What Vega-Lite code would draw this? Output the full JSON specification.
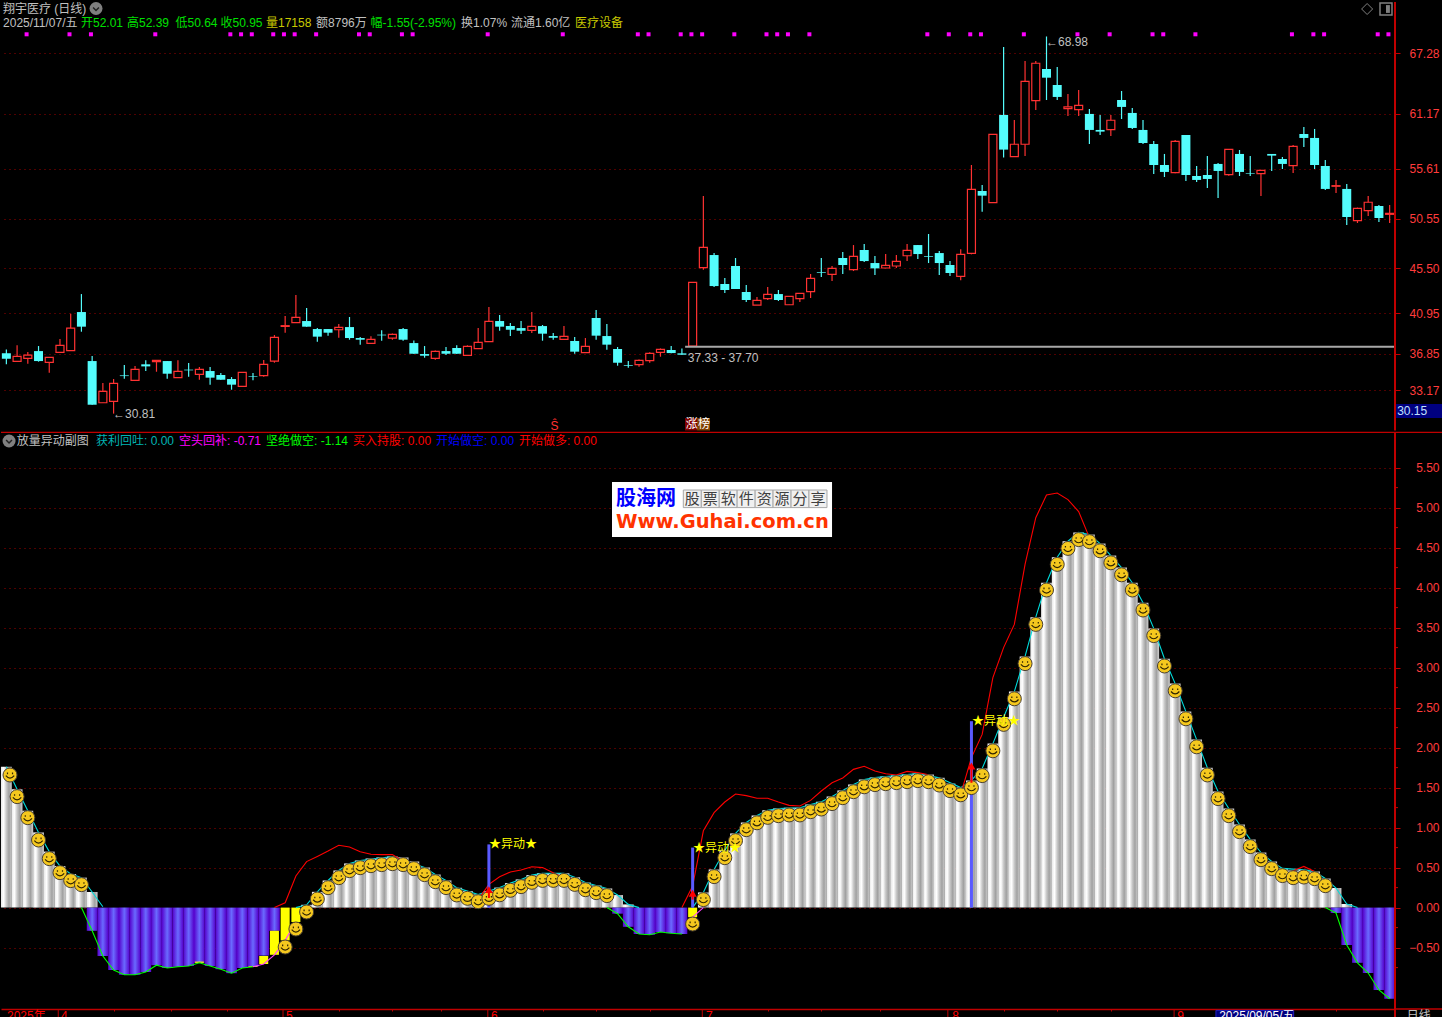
{"$schema":"https://vega.github.io/schema/vega-lite/v6.json","background":"#000000","padding":0,"spacing":0,"bounds":"flush","resolve":{"scale":{"color":"independent"}},"config":{"view":{"stroke":null},"text":{"font":"Liberation Sans, Noto Sans CJK SC","fontSize":12,"align":"left","baseline":"middle"},"axis":{"labelFont":"Liberation Sans"}},
"datasets":{
"k":[{"i":0,"o":36.91,"h":37.31,"l":35.8,"c":36.37},{"i":1,"o":36.1,"h":37.72,"l":36.07,"c":36.6},{"i":2,"o":36.4,"h":37.04,"l":35.86,"c":36.74},{"i":3,"o":37.14,"h":37.65,"l":36.07,"c":36.13},{"i":4,"o":36.0,"h":36.5,"l":34.95,"c":36.5},{"i":5,"o":37.01,"h":38.36,"l":36.98,"c":37.72},{"i":6,"o":37.18,"h":40.92,"l":37.18,"c":39.47},{"i":7,"o":41.09,"h":42.91,"l":39.1,"c":39.61},{"i":8,"o":36.13,"h":36.64,"l":31.71,"c":31.71},{"i":9,"o":31.91,"h":33.91,"l":31.91,"c":33.06},{"i":10,"o":32.05,"h":34.31,"l":30.81,"c":33.87},{"i":11,"o":34.68,"h":35.73,"l":34.34,"c":34.61},{"i":12,"o":34.18,"h":35.63,"l":34.18,"c":35.29},{"i":13,"o":35.8,"h":36.2,"l":35.12,"c":35.59},{"i":14,"o":36.07,"h":36.23,"l":35.05,"c":36.2},{"i":15,"o":36.13,"h":36.13,"l":34.34,"c":34.85},{"i":16,"o":34.45,"h":36.2,"l":34.45,"c":35.09},{"i":17,"o":35.26,"h":35.93,"l":34.55,"c":35.19},{"i":18,"o":34.78,"h":35.52,"l":34.24,"c":35.29},{"i":19,"o":35.12,"h":35.52,"l":33.74,"c":34.45},{"i":20,"o":34.72,"h":34.92,"l":34.24,"c":34.24},{"i":21,"o":34.31,"h":34.51,"l":33.23,"c":33.74},{"i":22,"o":33.57,"h":34.99,"l":33.57,"c":34.99},{"i":23,"o":34.61,"h":34.92,"l":34.18,"c":34.55},{"i":24,"o":34.65,"h":36.23,"l":34.55,"c":35.8},{"i":25,"o":36.13,"h":38.76,"l":35.96,"c":38.53},{"i":26,"o":39.64,"h":40.69,"l":39.0,"c":39.71},{"i":27,"o":40.01,"h":42.81,"l":40.01,"c":40.55},{"i":28,"o":40.18,"h":41.5,"l":39.61,"c":39.61},{"i":29,"o":39.37,"h":39.47,"l":38.09,"c":38.6},{"i":30,"o":39.37,"h":39.37,"l":38.7,"c":39.0},{"i":31,"o":39.3,"h":39.88,"l":38.49,"c":39.54},{"i":32,"o":39.57,"h":40.59,"l":38.29,"c":38.46},{"i":33,"o":38.46,"h":38.56,"l":37.79,"c":38.29},{"i":34,"o":37.92,"h":38.63,"l":37.89,"c":38.33},{"i":35,"o":38.8,"h":39.24,"l":38.19,"c":38.73},{"i":36,"o":38.46,"h":38.93,"l":38.29,"c":38.83},{"i":37,"o":39.37,"h":39.47,"l":38.19,"c":38.29},{"i":38,"o":37.95,"h":38.22,"l":36.87,"c":36.87},{"i":39,"o":36.84,"h":37.65,"l":36.47,"c":36.67},{"i":40,"o":36.4,"h":37.21,"l":36.27,"c":37.11},{"i":41,"o":37.14,"h":37.55,"l":36.74,"c":36.87},{"i":42,"o":37.45,"h":37.72,"l":36.87,"c":36.87},{"i":43,"o":36.71,"h":37.72,"l":36.67,"c":37.62},{"i":44,"o":37.38,"h":39.47,"l":37.38,"c":38.02},{"i":45,"o":38.09,"h":41.6,"l":38.09,"c":40.15},{"i":46,"o":40.18,"h":40.79,"l":39.2,"c":39.61},{"i":47,"o":39.67,"h":39.98,"l":38.66,"c":39.3},{"i":48,"o":39.47,"h":40.18,"l":38.87,"c":39.2},{"i":49,"o":39.24,"h":41.09,"l":38.98,"c":39.64},{"i":50,"o":39.67,"h":39.78,"l":38.19,"c":38.9},{"i":51,"o":38.66,"h":38.97,"l":38.29,"c":38.49},{"i":52,"o":38.33,"h":39.67,"l":38.33,"c":38.63},{"i":53,"o":38.16,"h":38.56,"l":36.87,"c":37.08},{"i":54,"o":36.98,"h":38.46,"l":36.98,"c":37.62},{"i":55,"o":40.49,"h":41.29,"l":38.29,"c":38.7},{"i":56,"o":38.66,"h":39.88,"l":37.28,"c":37.79},{"i":57,"o":37.35,"h":37.55,"l":35.66,"c":35.96},{"i":58,"o":35.73,"h":36.13,"l":35.46,"c":35.66},{"i":59,"o":35.76,"h":36.3,"l":35.56,"c":36.2},{"i":60,"o":36.17,"h":37.01,"l":35.96,"c":36.91},{"i":61,"o":37.01,"h":37.41,"l":36.57,"c":37.31},{"i":62,"o":37.25,"h":37.65,"l":36.91,"c":36.94},{"i":63,"o":36.91,"h":37.41,"l":36.77,"c":36.77},{"i":64,"o":37.65,"h":44.1,"l":37.65,"c":44.1},{"i":65,"o":45.58,"h":52.83,"l":45.38,"c":47.64},{"i":66,"o":46.86,"h":47.06,"l":43.62,"c":43.72},{"i":67,"o":43.93,"h":44.53,"l":43.02,"c":43.32},{"i":68,"o":45.75,"h":46.56,"l":43.42,"c":43.42},{"i":69,"o":43.12,"h":43.83,"l":42.1,"c":42.31},{"i":70,"o":41.8,"h":42.61,"l":41.8,"c":42.27},{"i":71,"o":42.44,"h":43.62,"l":42.31,"c":42.88},{"i":72,"o":42.91,"h":43.32,"l":42.21,"c":42.31},{"i":73,"o":41.83,"h":42.71,"l":41.8,"c":42.68},{"i":74,"o":42.44,"h":43.02,"l":42.1,"c":42.98},{"i":75,"o":43.15,"h":44.94,"l":42.51,"c":44.5},{"i":76,"o":45.14,"h":46.56,"l":44.63,"c":45.07},{"i":77,"o":44.9,"h":45.75,"l":44.23,"c":45.51},{"i":78,"o":46.56,"h":47.17,"l":44.94,"c":45.85},{"i":79,"o":45.38,"h":47.87,"l":45.24,"c":46.73},{"i":80,"o":47.37,"h":47.98,"l":46.15,"c":46.25},{"i":81,"o":46.05,"h":46.76,"l":44.84,"c":45.51},{"i":82,"o":45.55,"h":46.96,"l":45.51,"c":45.82},{"i":83,"o":45.75,"h":46.86,"l":45.55,"c":46.22},{"i":84,"o":46.79,"h":47.98,"l":46.25,"c":47.33},{"i":85,"o":47.87,"h":47.87,"l":46.46,"c":46.96},{"i":86,"o":46.76,"h":48.99,"l":46.05,"c":46.69},{"i":87,"o":47.06,"h":47.27,"l":44.84,"c":46.05},{"i":88,"o":45.85,"h":46.25,"l":44.74,"c":45.04},{"i":89,"o":44.71,"h":47.44,"l":44.3,"c":46.93},{"i":90,"o":47.03,"h":55.97,"l":46.93,"c":53.51},{"i":91,"o":53.34,"h":53.95,"l":51.25,"c":52.87},{"i":92,"o":52.16,"h":59.08,"l":52.16,"c":59.08},{"i":93,"o":61.04,"h":67.92,"l":56.72,"c":57.53},{"i":94,"o":56.82,"h":60.53,"l":56.82,"c":58.07},{"i":95,"o":58.07,"h":66.5,"l":56.88,"c":64.44},{"i":96,"o":62.49,"h":66.5,"l":61.54,"c":66.27},{"i":97,"o":65.69,"h":68.98,"l":62.55,"c":64.81},{"i":98,"o":64.07,"h":65.89,"l":62.55,"c":62.86},{"i":99,"o":61.68,"h":63.16,"l":60.93,"c":61.85},{"i":100,"o":61.58,"h":63.57,"l":60.93,"c":62.01},{"i":101,"o":61.14,"h":61.64,"l":58.1,"c":59.52},{"i":102,"o":59.52,"h":61.04,"l":59.01,"c":59.35},{"i":103,"o":59.55,"h":61.04,"l":58.91,"c":60.5},{"i":104,"o":62.55,"h":63.46,"l":60.63,"c":61.85},{"i":105,"o":61.24,"h":61.74,"l":59.62,"c":59.72},{"i":106,"o":59.52,"h":60.53,"l":58.1,"c":58.2},{"i":107,"o":58.1,"h":58.4,"l":55.06,"c":55.97},{"i":108,"o":55.97,"h":57.09,"l":54.76,"c":55.27},{"i":109,"o":55.2,"h":58.5,"l":55.13,"c":58.37},{"i":110,"o":59.01,"h":59.01,"l":54.35,"c":54.96},{"i":111,"o":54.86,"h":55.87,"l":54.25,"c":54.46},{"i":112,"o":54.96,"h":56.88,"l":53.65,"c":54.56},{"i":113,"o":56.08,"h":56.18,"l":52.63,"c":55.37},{"i":114,"o":54.99,"h":57.56,"l":54.89,"c":57.56},{"i":115,"o":57.09,"h":57.49,"l":54.86,"c":55.27},{"i":116,"o":55.16,"h":56.88,"l":54.86,"c":55.1},{"i":117,"o":55.1,"h":55.47,"l":52.84,"c":55.43},{"i":118,"o":57.09,"h":57.09,"l":55.37,"c":56.92},{"i":119,"o":56.58,"h":56.78,"l":55.57,"c":56.08},{"i":120,"o":55.91,"h":58.0,"l":55.16,"c":57.86},{"i":121,"o":59.11,"h":59.82,"l":57.8,"c":58.71},{"i":122,"o":58.71,"h":59.62,"l":55.57,"c":55.97},{"i":123,"o":55.87,"h":56.48,"l":53.44,"c":53.55},{"i":124,"o":53.82,"h":54.46,"l":53.14,"c":53.88},{"i":125,"o":53.55,"h":54.05,"l":49.9,"c":50.71},{"i":126,"o":50.34,"h":51.66,"l":50.1,"c":51.59},{"i":127,"o":51.35,"h":52.84,"l":50.81,"c":52.2},{"i":128,"o":51.82,"h":51.93,"l":50.2,"c":50.61},{"i":129,"o":50.98,"h":51.93,"l":50.1,"c":51.08}],
"sq":[{"i":2,"v":69.2},{"i":6,"v":69.2},{"i":8,"v":69.2},{"i":14,"v":69.2},{"i":21,"v":69.2},{"i":22,"v":69.2},{"i":23,"v":69.2},{"i":25,"v":69.2},{"i":26,"v":69.2},{"i":27,"v":69.2},{"i":29,"v":69.2},{"i":33,"v":69.2},{"i":34,"v":69.2},{"i":37,"v":69.2},{"i":38,"v":69.2},{"i":45,"v":69.2},{"i":52,"v":69.2},{"i":59,"v":69.2},{"i":60,"v":69.2},{"i":63,"v":69.2},{"i":64,"v":69.2},{"i":65,"v":69.2},{"i":68,"v":69.2},{"i":71,"v":69.2},{"i":72,"v":69.2},{"i":73,"v":69.2},{"i":75,"v":69.2},{"i":86,"v":69.2},{"i":88,"v":69.2},{"i":90,"v":69.2},{"i":91,"v":69.2},{"i":95,"v":69.2},{"i":100,"v":69.2},{"i":103,"v":69.2},{"i":107,"v":69.2},{"i":108,"v":69.2},{"i":111,"v":69.2},{"i":120,"v":69.2},{"i":122,"v":69.2},{"i":123,"v":69.2},{"i":128,"v":69.2},{"i":129,"v":69.2}],
"w":[{"i":0,"w":1.76},{"i":1,"w":1.48},{"i":2,"w":1.21},{"i":3,"w":0.94},{"i":4,"w":0.7},{"i":5,"w":0.52},{"i":6,"w":0.42},{"i":7,"w":0.375},{"i":8,"w":0.195},{"i":28,"w":0.035},{"i":29,"w":0.197},{"i":30,"w":0.339},{"i":31,"w":0.464},{"i":32,"w":0.552},{"i":33,"w":0.589},{"i":34,"w":0.614},{"i":35,"w":0.627},{"i":36,"w":0.639},{"i":37,"w":0.627},{"i":38,"w":0.577},{"i":39,"w":0.502},{"i":40,"w":0.414},{"i":41,"w":0.34},{"i":42,"w":0.248},{"i":43,"w":0.206},{"i":44,"w":0.164},{"i":45,"w":0.206},{"i":46,"w":0.25},{"i":47,"w":0.306},{"i":48,"w":0.352},{"i":49,"w":0.406},{"i":50,"w":0.43},{"i":51,"w":0.43},{"i":52,"w":0.43},{"i":53,"w":0.38},{"i":54,"w":0.314},{"i":55,"w":0.277},{"i":56,"w":0.24},{"i":57,"w":0.157},{"i":58,"w":0.04},{"i":65,"w":0.19},{"i":66,"w":0.477},{"i":67,"w":0.714},{"i":68,"w":0.927},{"i":69,"w":1.064},{"i":70,"w":1.15},{"i":71,"w":1.218},{"i":72,"w":1.239},{"i":73,"w":1.248},{"i":74,"w":1.248},{"i":75,"w":1.289},{"i":76,"w":1.322},{"i":77,"w":1.39},{"i":78,"w":1.464},{"i":79,"w":1.539},{"i":80,"w":1.6},{"i":81,"w":1.627},{"i":82,"w":1.639},{"i":83,"w":1.652},{"i":84,"w":1.664},{"i":85,"w":1.677},{"i":86,"w":1.664},{"i":87,"w":1.622},{"i":88,"w":1.552},{"i":89,"w":1.5},{"i":90,"w":1.59},{"i":91,"w":1.74},{"i":92,"w":2.05},{"i":93,"w":2.38},{"i":94,"w":2.7},{"i":95,"w":3.14},{"i":96,"w":3.63},{"i":97,"w":4.06},{"i":98,"w":4.38},{"i":99,"w":4.58},{"i":100,"w":4.69},{"i":101,"w":4.665},{"i":102,"w":4.55},{"i":103,"w":4.4},{"i":104,"w":4.25},{"i":105,"w":4.06},{"i":106,"w":3.81},{"i":107,"w":3.49},{"i":108,"w":3.11},{"i":109,"w":2.8},{"i":110,"w":2.45},{"i":111,"w":2.1},{"i":112,"w":1.748},{"i":113,"w":1.452},{"i":114,"w":1.239},{"i":115,"w":1.039},{"i":116,"w":0.852},{"i":117,"w":0.689},{"i":118,"w":0.577},{"i":119,"w":0.49},{"i":120,"w":0.464},{"i":121,"w":0.472},{"i":122,"w":0.452},{"i":123,"w":0.364},{"i":124,"w":0.245},{"i":125,"w":0.045}],
"p":[{"i":8,"p":-0.29},{"i":9,"p":-0.605},{"i":10,"p":-0.78},{"i":11,"p":-0.84},{"i":12,"p":-0.84},{"i":13,"p":-0.805},{"i":14,"p":-0.72},{"i":15,"p":-0.755},{"i":16,"p":-0.74},{"i":17,"p":-0.73},{"i":18,"p":-0.69},{"i":19,"p":-0.73},{"i":20,"p":-0.77},{"i":21,"p":-0.82},{"i":22,"p":-0.755},{"i":23,"p":-0.74},{"i":24,"p":-0.6},{"i":25,"p":-0.29},{"i":57,"p":-0.076},{"i":58,"p":-0.24},{"i":59,"p":-0.33},{"i":60,"p":-0.34},{"i":61,"p":-0.305},{"i":62,"p":-0.32},{"i":63,"p":-0.33},{"i":124,"p":-0.067},{"i":125,"p":-0.4675},{"i":126,"p":-0.69},{"i":127,"p":-0.8175},{"i":128,"p":-1.03},{"i":129,"p":-1.14}],
"y":[{"i":18,"a":-0.675,"b":-0.69},{"i":23,"a":-0.73,"b":-0.74},{"i":24,"a":-0.605,"b":-0.705},{"i":25,"a":-0.29,"b":-0.59},{"i":26,"a":0,"b":-0.41},{"i":27,"a":0,"b":-0.18},{"i":64,"a":0,"b":-0.12}],
"s":[{"i":0.34,"s":1.6575},{"i":1,"s":1.387},{"i":2,"s":1.124},{"i":3,"s":0.845},{"i":4,"s":0.612},{"i":5,"s":0.437},{"i":6,"s":0.337},{"i":7,"s":0.287},{"i":26,"s":-0.4925},{"i":27,"s":-0.2675},{"i":28,"s":-0.055},{"i":29,"s":0.107},{"i":30,"s":0.249},{"i":31,"s":0.374},{"i":32,"s":0.462},{"i":33,"s":0.499},{"i":34,"s":0.524},{"i":35,"s":0.537},{"i":36,"s":0.549},{"i":37,"s":0.537},{"i":38,"s":0.487},{"i":39,"s":0.412},{"i":40,"s":0.324},{"i":41,"s":0.25},{"i":42,"s":0.158},{"i":43,"s":0.116},{"i":44,"s":0.074},{"i":45,"s":0.116},{"i":46,"s":0.16},{"i":47,"s":0.216},{"i":48,"s":0.262},{"i":49,"s":0.316},{"i":50,"s":0.34},{"i":51,"s":0.34},{"i":52,"s":0.34},{"i":53,"s":0.29},{"i":54,"s":0.224},{"i":55,"s":0.187},{"i":56,"s":0.15},{"i":64,"s":-0.205},{"i":65,"s":0.1},{"i":66,"s":0.387},{"i":67,"s":0.624},{"i":68,"s":0.837},{"i":69,"s":0.974},{"i":70,"s":1.06},{"i":71,"s":1.128},{"i":72,"s":1.149},{"i":73,"s":1.158},{"i":74,"s":1.158},{"i":75,"s":1.199},{"i":76,"s":1.232},{"i":77,"s":1.3},{"i":78,"s":1.374},{"i":79,"s":1.449},{"i":80,"s":1.51},{"i":81,"s":1.537},{"i":82,"s":1.549},{"i":83,"s":1.562},{"i":84,"s":1.574},{"i":85,"s":1.587},{"i":86,"s":1.574},{"i":87,"s":1.532},{"i":88,"s":1.462},{"i":89,"s":1.41},{"i":90,"s":1.5},{"i":91,"s":1.65},{"i":92,"s":1.96},{"i":93,"s":2.29},{"i":94,"s":2.61},{"i":95,"s":3.05},{"i":96,"s":3.54},{"i":97,"s":3.97},{"i":98,"s":4.29},{"i":99,"s":4.49},{"i":100,"s":4.6},{"i":101,"s":4.575},{"i":102,"s":4.46},{"i":103,"s":4.31},{"i":104,"s":4.16},{"i":105,"s":3.97},{"i":106,"s":3.72},{"i":107,"s":3.4},{"i":108,"s":3.02},{"i":109,"s":2.71},{"i":110,"s":2.36},{"i":111,"s":2.01},{"i":112,"s":1.658},{"i":113,"s":1.362},{"i":114,"s":1.149},{"i":115,"s":0.949},{"i":116,"s":0.762},{"i":117,"s":0.599},{"i":118,"s":0.487},{"i":119,"s":0.4},{"i":120,"s":0.374},{"i":121,"s":0.382},{"i":122,"s":0.362},{"i":123,"s":0.274}],
"ln":[{"i":0,"v":1.76,"kind":"cyan","seg":"c1"},{"i":1,"v":1.48,"kind":"cyan","seg":"c1"},{"i":2,"v":1.21,"kind":"cyan","seg":"c1"},{"i":3,"v":0.94,"kind":"cyan","seg":"c1"},{"i":4,"v":0.7,"kind":"cyan","seg":"c1"},{"i":5,"v":0.52,"kind":"cyan","seg":"c1"},{"i":6,"v":0.42,"kind":"cyan","seg":"c1"},{"i":7,"v":0.375,"kind":"cyan","seg":"c1"},{"i":8,"v":0.195,"kind":"cyan","seg":"c1"},{"i":9,"v":0.01,"kind":"cyan","seg":"c1"},
{"i":27,"v":0,"kind":"cyan","seg":"c2"},{"i":28,"v":0.035,"kind":"cyan","seg":"c2"},{"i":29,"v":0.197,"kind":"cyan","seg":"c2"},{"i":30,"v":0.339,"kind":"cyan","seg":"c2"},{"i":31,"v":0.464,"kind":"cyan","seg":"c2"},{"i":32,"v":0.552,"kind":"cyan","seg":"c2"},{"i":33,"v":0.589,"kind":"cyan","seg":"c2"},{"i":36,"v":0.639,"kind":"cyan","seg":"c2"},{"i":39,"v":0.502,"kind":"cyan","seg":"c2"},{"i":40,"v":0.414,"kind":"cyan","seg":"c2"},{"i":41,"v":0.34,"kind":"cyan","seg":"c2"},{"i":42,"v":0.248,"kind":"cyan","seg":"c2"},{"i":43,"v":0.206,"kind":"cyan","seg":"c2"},{"i":44,"v":0.164,"kind":"cyan","seg":"c2"},{"i":45,"v":0.206,"kind":"cyan","seg":"c2"},{"i":46,"v":0.25,"kind":"cyan","seg":"c2"},{"i":47,"v":0.306,"kind":"cyan","seg":"c2"},{"i":48,"v":0.352,"kind":"cyan","seg":"c2"},{"i":49,"v":0.406,"kind":"cyan","seg":"c2"},{"i":50,"v":0.43,"kind":"cyan","seg":"c2"},{"i":52,"v":0.43,"kind":"cyan","seg":"c2"},{"i":53,"v":0.38,"kind":"cyan","seg":"c2"},{"i":54,"v":0.314,"kind":"cyan","seg":"c2"},{"i":55,"v":0.277,"kind":"cyan","seg":"c2"},{"i":56,"v":0.24,"kind":"cyan","seg":"c2"},{"i":57,"v":0.157,"kind":"cyan","seg":"c2"},{"i":58,"v":0.04,"kind":"cyan","seg":"c2"},{"i":59,"v":0,"kind":"cyan","seg":"c2"},
{"i":64,"v":0,"kind":"cyan","seg":"c3"},{"i":65,"v":0.19,"kind":"cyan","seg":"c3"},{"i":66,"v":0.477,"kind":"cyan","seg":"c3"},{"i":67,"v":0.714,"kind":"cyan","seg":"c3"},{"i":68,"v":0.927,"kind":"cyan","seg":"c3"},{"i":69,"v":1.064,"kind":"cyan","seg":"c3"},{"i":70,"v":1.15,"kind":"cyan","seg":"c3"},{"i":71,"v":1.218,"kind":"cyan","seg":"c3"},{"i":72,"v":1.239,"kind":"cyan","seg":"c3"},{"i":74,"v":1.248,"kind":"cyan","seg":"c3"},{"i":75,"v":1.289,"kind":"cyan","seg":"c3"},{"i":76,"v":1.322,"kind":"cyan","seg":"c3"},{"i":77,"v":1.39,"kind":"cyan","seg":"c3"},{"i":78,"v":1.464,"kind":"cyan","seg":"c3"},{"i":79,"v":1.539,"kind":"cyan","seg":"c3"},{"i":80,"v":1.6,"kind":"cyan","seg":"c3"},{"i":81,"v":1.627,"kind":"cyan","seg":"c3"},{"i":83,"v":1.652,"kind":"cyan","seg":"c3"},{"i":85,"v":1.677,"kind":"cyan","seg":"c3"},{"i":87,"v":1.622,"kind":"cyan","seg":"c3"},{"i":89,"v":1.5,"kind":"cyan","seg":"c3"},{"i":90,"v":1.59,"kind":"cyan","seg":"c3"},{"i":91,"v":1.74,"kind":"cyan","seg":"c3"},{"i":92,"v":2.05,"kind":"cyan","seg":"c3"},{"i":93,"v":2.38,"kind":"cyan","seg":"c3"},{"i":94,"v":2.7,"kind":"cyan","seg":"c3"},{"i":95,"v":3.14,"kind":"cyan","seg":"c3"},{"i":96,"v":3.63,"kind":"cyan","seg":"c3"},{"i":97,"v":4.06,"kind":"cyan","seg":"c3"},{"i":98,"v":4.38,"kind":"cyan","seg":"c3"},{"i":99,"v":4.58,"kind":"cyan","seg":"c3"},{"i":100,"v":4.69,"kind":"cyan","seg":"c3"},{"i":101,"v":4.665,"kind":"cyan","seg":"c3"},{"i":102,"v":4.55,"kind":"cyan","seg":"c3"},{"i":103,"v":4.4,"kind":"cyan","seg":"c3"},{"i":104,"v":4.25,"kind":"cyan","seg":"c3"},{"i":105,"v":4.06,"kind":"cyan","seg":"c3"},{"i":106,"v":3.81,"kind":"cyan","seg":"c3"},{"i":107,"v":3.49,"kind":"cyan","seg":"c3"},{"i":108,"v":3.11,"kind":"cyan","seg":"c3"},{"i":109,"v":2.8,"kind":"cyan","seg":"c3"},{"i":110,"v":2.45,"kind":"cyan","seg":"c3"},{"i":111,"v":2.1,"kind":"cyan","seg":"c3"},{"i":112,"v":1.748,"kind":"cyan","seg":"c3"},{"i":113,"v":1.452,"kind":"cyan","seg":"c3"},{"i":114,"v":1.239,"kind":"cyan","seg":"c3"},{"i":115,"v":1.039,"kind":"cyan","seg":"c3"},{"i":116,"v":0.852,"kind":"cyan","seg":"c3"},{"i":117,"v":0.689,"kind":"cyan","seg":"c3"},{"i":118,"v":0.577,"kind":"cyan","seg":"c3"},{"i":119,"v":0.49,"kind":"cyan","seg":"c3"},{"i":121,"v":0.472,"kind":"cyan","seg":"c3"},{"i":122,"v":0.452,"kind":"cyan","seg":"c3"},{"i":123,"v":0.364,"kind":"cyan","seg":"c3"},{"i":124,"v":0.245,"kind":"cyan","seg":"c3"},{"i":125,"v":0.045,"kind":"cyan","seg":"c3"},{"i":126,"v":0,"kind":"cyan","seg":"c3"},
{"i":7,"v":0,"kind":"green","seg":"g1"},{"i":8,"v":-0.29,"kind":"green","seg":"g1"},{"i":9,"v":-0.605,"kind":"green","seg":"g1"},{"i":10,"v":-0.78,"kind":"green","seg":"g1"},{"i":11,"v":-0.84,"kind":"green","seg":"g1"},{"i":12,"v":-0.84,"kind":"green","seg":"g1"},{"i":13,"v":-0.805,"kind":"green","seg":"g1"},{"i":14,"v":-0.72,"kind":"green","seg":"g1"},{"i":15,"v":-0.755,"kind":"green","seg":"g1"},{"i":16,"v":-0.74,"kind":"green","seg":"g1"},{"i":17,"v":-0.73,"kind":"green","seg":"g1"},{"i":18,"v":-0.69,"kind":"green","seg":"g1"},{"i":19,"v":-0.73,"kind":"green","seg":"g1"},{"i":20,"v":-0.77,"kind":"green","seg":"g1"},{"i":21,"v":-0.82,"kind":"green","seg":"g1"},{"i":22,"v":-0.755,"kind":"green","seg":"g1"},{"i":23,"v":-0.74,"kind":"green","seg":"g1"},
{"i":23,"v":-0.74,"kind":"pink","seg":"m1"},{"i":24,"v":-0.705,"kind":"pink","seg":"m1"},{"i":25,"v":-0.59,"kind":"pink","seg":"m1"},{"i":26,"v":-0.41,"kind":"pink","seg":"m1"},{"i":27,"v":-0.18,"kind":"pink","seg":"m1"},
{"i":56,"v":0,"kind":"green","seg":"g2"},{"i":57,"v":-0.076,"kind":"green","seg":"g2"},{"i":58,"v":-0.24,"kind":"green","seg":"g2"},{"i":59,"v":-0.33,"kind":"green","seg":"g2"},{"i":60,"v":-0.34,"kind":"green","seg":"g2"},{"i":61,"v":-0.305,"kind":"green","seg":"g2"},{"i":62,"v":-0.32,"kind":"green","seg":"g2"},{"i":63,"v":-0.33,"kind":"green","seg":"g2"},
{"i":64,"v":-0.12,"kind":"pink","seg":"m2"},{"i":65,"v":0,"kind":"pink","seg":"m2"},
{"i":123,"v":0,"kind":"green","seg":"g3"},{"i":124,"v":-0.067,"kind":"green","seg":"g3"},{"i":125,"v":-0.4675,"kind":"green","seg":"g3"},{"i":126,"v":-0.69,"kind":"green","seg":"g3"},{"i":127,"v":-0.8175,"kind":"green","seg":"g3"},{"i":128,"v":-1.03,"kind":"green","seg":"g3"},{"i":129,"v":-1.14,"kind":"green","seg":"g3"},
{"i":25,"v":0,"kind":"red","seg":"r1"},{"i":26,"v":0.06,"kind":"red","seg":"r1"},{"i":27,"v":0.395,"kind":"red","seg":"r1"},{"i":28,"v":0.575,"kind":"red","seg":"r1"},{"i":29,"v":0.64,"kind":"red","seg":"r1"},{"i":30,"v":0.708,"kind":"red","seg":"r1"},{"i":31,"v":0.78,"kind":"red","seg":"r1"},{"i":32,"v":0.757,"kind":"red","seg":"r1"},{"i":33,"v":0.699,"kind":"red","seg":"r1"},{"i":34,"v":0.666,"kind":"red","seg":"r1"},{"i":35,"v":0.662,"kind":"red","seg":"r1"},{"i":36,"v":0.662,"kind":"red","seg":"r1"},{"i":37,"v":0.58,"kind":"red","seg":"r1"},
{"i":44,"v":0.1,"kind":"red","seg":"r2"},{"i":45,"v":0.29,"kind":"red","seg":"r2"},{"i":46,"v":0.386,"kind":"red","seg":"r2"},{"i":47,"v":0.445,"kind":"red","seg":"r2"},{"i":48,"v":0.47,"kind":"red","seg":"r2"},{"i":49,"v":0.51,"kind":"red","seg":"r2"},{"i":50,"v":0.5,"kind":"red","seg":"r2"},{"i":51,"v":0.437,"kind":"red","seg":"r2"},{"i":52,"v":0.37,"kind":"red","seg":"r2"},
{"i":63,"v":0,"kind":"red","seg":"r3"},{"i":64,"v":0.27,"kind":"red","seg":"r3"},{"i":65,"v":0.96,"kind":"red","seg":"r3"},{"i":66,"v":1.187,"kind":"red","seg":"r3"},{"i":67,"v":1.32,"kind":"red","seg":"r3"},{"i":68,"v":1.42,"kind":"red","seg":"r3"},{"i":69,"v":1.4,"kind":"red","seg":"r3"},{"i":70,"v":1.366,"kind":"red","seg":"r3"},{"i":71,"v":1.366,"kind":"red","seg":"r3"},{"i":72,"v":1.32,"kind":"red","seg":"r3"},{"i":73,"v":1.278,"kind":"red","seg":"r3"},{"i":74,"v":1.27,"kind":"red","seg":"r3"},{"i":75,"v":1.34,"kind":"red","seg":"r3"},{"i":76,"v":1.457,"kind":"red","seg":"r3"},{"i":77,"v":1.56,"kind":"red","seg":"r3"},{"i":78,"v":1.62,"kind":"red","seg":"r3"},{"i":79,"v":1.728,"kind":"red","seg":"r3"},{"i":80,"v":1.766,"kind":"red","seg":"r3"},{"i":81,"v":1.707,"kind":"red","seg":"r3"},{"i":82,"v":1.674,"kind":"red","seg":"r3"},{"i":83,"v":1.657,"kind":"red","seg":"r3"},{"i":84,"v":1.703,"kind":"red","seg":"r3"},{"i":85,"v":1.687,"kind":"red","seg":"r3"},{"i":86,"v":1.66,"kind":"red","seg":"r3"},
{"i":89,"v":1.415,"kind":"red","seg":"r4"},{"i":90,"v":1.875,"kind":"red","seg":"r4"},{"i":91,"v":2.165,"kind":"red","seg":"r4"},{"i":92,"v":2.875,"kind":"red","seg":"r4"},{"i":93,"v":3.25,"kind":"red","seg":"r4"},{"i":94,"v":3.54,"kind":"red","seg":"r4"},{"i":95,"v":4.29,"kind":"red","seg":"r4"},{"i":96,"v":4.874,"kind":"red","seg":"r4"},{"i":97,"v":5.157,"kind":"red","seg":"r4"},{"i":98,"v":5.182,"kind":"red","seg":"r4"},{"i":99,"v":5.1,"kind":"red","seg":"r4"},{"i":100,"v":4.95,"kind":"red","seg":"r4"},{"i":101,"v":4.625,"kind":"red","seg":"r4"},
{"i":120,"v":0.46,"kind":"red","seg":"r5"},{"i":121,"v":0.515,"kind":"red","seg":"r5"},{"i":122,"v":0.45,"kind":"red","seg":"r5"}],
"sp":[{"i":45,"t":0.79,"z":0,"h":0.225,"b":0.12,"x":45.01,"ly":0.795},{"i":64,"t":0.75,"z":0,"h":0.18,"b":0.1,"x":64.03,"ly":0.745},{"i":90,"t":2.33,"z":0,"h":1.77,"b":1.56,"x":90.05,"ly":2.33}],
"topText":[{"x":-0.31,"y":71.76,"t":"翔宇医疗 (日线)","k":"gray"},{"x":-0.31,"y":70.34,"t":"2025/11/07/五","k":"gray"},{"x":6.96,"y":70.34,"t":"开52.01","k":"green"},{"x":11.25,"y":70.34,"t":"高52.39","k":"green"},{"x":15.77,"y":70.34,"t":"低50.64","k":"green"},{"x":19.97,"y":70.34,"t":"收50.95","k":"green"},{"x":24.21,"y":70.34,"t":"量17158","k":"olive"},{"x":28.88,"y":70.34,"t":"额8796万","k":"gray"},{"x":33.97,"y":70.34,"t":"幅-1.55(-2.95%)","k":"green"},{"x":42.4,"y":70.34,"t":"换1.07%","k":"gray"},{"x":47.06,"y":70.34,"t":"流通1.60亿","k":"gray"},{"x":53.03,"y":70.34,"t":"医疗设备","k":"olive"},{"x":9.95,"y":30.81,"t":"←30.81","k":"gray"},{"x":96.95,"y":68.45,"t":"←68.98","k":"gray"},{"x":63.55,"y":36.47,"t":"37.33 - 37.70","k":"gray"},{"x":50.75,"y":29.55,"t":"Ŝ","k":"red"},{"x":63.35,"y":29.72,"t":"涨","k":"white"},{"x":64.5,"y":29.72,"t":"榜","k":"white"},{"x":129.7,"y":31.07,"t":"30.15","k":"pale"}],
"topBox":[{"x":63.29,"x2":64.41,"y":30.36,"y2":29.1,"k":"a"},{"x":64.41,"x2":65.62,"y":30.36,"y2":29.1,"k":"b"},{"x":129.6,"x2":134,"y":31.78,"y2":30.36,"k":"c"}],
"botText":[{"x":0.98,"y":5.8325,"t":"放量异动副图","k":"gray"},{"x":8.36,"y":5.8325,"t":"获利回吐: 0.00","k":"teal"},{"x":16.1,"y":5.8325,"t":"空头回补: -0.71","k":"magenta"},{"x":24.21,"y":5.8325,"t":"坚绝做空: -1.14","k":"lime"},{"x":32.33,"y":5.8325,"t":"买入持股: 0.00","k":"red"},{"x":40.07,"y":5.8325,"t":"开始做空: 0.00","k":"blue"},{"x":47.8,"y":5.8325,"t":"开始做多: 0.00","k":"red"},{"x":0.06,"y":-1.36,"t":"2025年","k":"red"},{"x":5.1,"y":-1.36,"t":"4","k":"red"},{"x":26.08,"y":-1.36,"t":"5","k":"red"},{"x":45.2,"y":-1.36,"t":"6","k":"red"},{"x":65.25,"y":-1.36,"t":"7","k":"red"},{"x":88.2,"y":-1.36,"t":"8","k":"red"},{"x":109.2,"y":-1.36,"t":"9","k":"red"},{"x":113.1,"y":-1.36,"t":"2025/09/05/五","k":"white"},{"x":130.6,"y":-1.36,"t":"日线","k":"gray"}],
"ticks":[{"x":4.84,"a":-1.2675,"t":-1.42},{"x":25.8,"a":-1.2675,"t":-1.42},{"x":44.9,"a":-1.2675,"t":-1.42},{"x":64.9,"a":-1.2675,"t":-1.42},{"x":87.8,"a":-1.2675,"t":-1.42},{"x":108.9,"a":-1.2675,"t":-1.42}],
"minor":[{"a":129.5,"b":129.78,"v":5.25},{"a":129.5,"b":129.78,"v":4.75},{"a":129.5,"b":129.78,"v":4.25},{"a":129.5,"b":129.78,"v":3.75},{"a":129.5,"b":129.78,"v":3.25},{"a":129.5,"b":129.78,"v":2.75},{"a":129.5,"b":129.78,"v":2.25},{"a":129.5,"b":129.78,"v":1.75},{"a":129.5,"b":129.78,"v":1.25},{"a":129.5,"b":129.78,"v":0.75},{"a":129.5,"b":129.78,"v":0.25},{"a":129.5,"b":129.78,"v":-0.25},{"a":129.5,"b":129.78,"v":-0.75}],
"wm":[{"c":"股","x":63.97,"a":63.13,"b":64.81,"y":5.22,"y2":5.0,"m":5.11},{"c":"票","x":65.64,"a":64.81,"b":66.48,"y":5.22,"y2":5.0,"m":5.11},{"c":"软","x":67.32,"a":66.48,"b":68.15,"y":5.22,"y2":5.0,"m":5.11},{"c":"件","x":68.99,"a":68.15,"b":69.83,"y":5.22,"y2":5.0,"m":5.11},{"c":"资","x":70.67,"a":69.83,"b":71.5,"y":5.22,"y2":5.0,"m":5.11},{"c":"源","x":72.34,"a":71.5,"b":73.18,"y":5.22,"y2":5.0,"m":5.11},{"c":"分","x":74.02,"a":73.18,"b":74.85,"y":5.22,"y2":5.0,"m":5.11},{"c":"享","x":75.69,"a":74.85,"b":76.53,"y":5.22,"y2":5.0,"m":5.11}]
},
"vconcat":[
{"width":1394,"height":431,"layer":[
{"data":{"name":"k"},"mark":{"type":"rule","strokeWidth":1.2},"encoding":{"x":{"field":"i","type":"quantitative","scale":{"domain":[-0.5,129.5],"nice":false,"zero":false,"padding":0},"axis":null},"y":{"field":"h","type":"quantitative","scale":{"domain":[28.95,72.57],"nice":false,"zero":false},"axis":{"title":null,"orient":"right","values":[67.28,61.17,55.61,50.55,45.5,40.95,36.85,33.17],"format":".2f","grid":true,"gridColor":"#A00000","gridDash":[1,4],"gridWidth":1,"domain":false,"tickColor":"#C00000","tickSize":5,"labelColor":"#FF3C3C","labelFontSize":12,"labelAlign":"right","labelPadding":39}},"y2":{"field":"l"},"color":{"condition":{"test":"datum.c>=datum.o","value":"#FF3232"},"value":"#54FCFC"}}},
{"data":{"name":"k"},"transform":[{"filter":"datum.c>=datum.o"}],"mark":{"type":"bar","orient":"vertical","size":8,"fill":"#000000","stroke":"#FF3232","strokeWidth":1.2},"encoding":{"x":{"field":"i","type":"quantitative"},"y":{"field":"o","type":"quantitative"},"y2":{"field":"c"}}},
{"data":{"name":"k"},"transform":[{"filter":"datum.c<datum.o"}],"mark":{"type":"bar","orient":"vertical","size":9,"fill":"#54FCFC"},"encoding":{"x":{"field":"i","type":"quantitative"},"y":{"field":"o","type":"quantitative"},"y2":{"field":"c"}}},
{"data":{"name":"sq"},"mark":{"type":"point","shape":"square","filled":true,"size":16,"color":"#FF00FF","xOffset":-1.2,"opacity":1},"encoding":{"x":{"field":"i","type":"quantitative"},"y":{"field":"v","type":"quantitative"}}},
{"data":{"values":[{"a":63.3,"b":129.5,"v":37.58}]},"mark":{"type":"rule","color":"#A8A8A8","strokeWidth":2},"encoding":{"x":{"field":"a","type":"quantitative"},"x2":{"field":"b"},"y":{"field":"v","type":"quantitative"}}},
{"data":{"values":[{"a":129.5,"y":72.47,"y2":29.1}]},"mark":{"type":"rule","color":"#C00000","strokeWidth":2},"encoding":{"x":{"field":"a","type":"quantitative"},"y":{"field":"y","type":"quantitative"},"y2":{"field":"y2"}}},
{"data":{"name":"topBox"},"mark":{"type":"rect"},"encoding":{"x":{"field":"x","type":"quantitative"},"x2":{"field":"x2"},"y":{"field":"y","type":"quantitative"},"y2":{"field":"y2"},"color":{"field":"k","type":"nominal","legend":null,"scale":{"domain":["a","b","c","gray","green","olive","red","white","pale"],"range":["#800000","#804000","#000080","#C0C0C0","#00E000","#C8C800","#FF3232","#FFFFFF","#C0E0FF"]}}}},
{"data":{"name":"topText"},"mark":{"type":"text"},"encoding":{"x":{"field":"x","type":"quantitative"},"y":{"field":"y","type":"quantitative"},"text":{"field":"t","type":"nominal"},"color":{"field":"k","type":"nominal","legend":null}}},
{"data":{"values":[{"x":8.36,"y":71.81}]},"mark":{"type":"point","shape":"circle","filled":true,"size":169,"color":"#808080","opacity":1},"encoding":{"x":{"field":"x","type":"quantitative"},"y":{"field":"y","type":"quantitative"}}},
{"data":{"values":[{"x":8.36,"y":71.81}]},"mark":{"type":"point","shape":"M-0.45,-0.15L0,0.3L0.45,-0.15","filled":false,"size":169,"stroke":"#222222","strokeWidth":1.5,"opacity":1},"encoding":{"x":{"field":"x","type":"quantitative"},"y":{"field":"y","type":"quantitative"}}},
{"data":{"values":[{"x":126.9,"y":71.76}]},"mark":{"type":"point","shape":"diamond","filled":false,"size":121,"stroke":"#808080","strokeWidth":1,"opacity":1},"encoding":{"x":{"field":"x","type":"quantitative"},"y":{"field":"y","type":"quantitative"}}},
{"data":{"values":[{"x":128.66,"y":71.76}]},"mark":{"type":"point","shape":"square","filled":false,"size":144,"stroke":"#808080","strokeWidth":1.5,"opacity":1},"encoding":{"x":{"field":"x","type":"quantitative"},"y":{"field":"y","type":"quantitative"}}},
{"data":{"values":[{"x":128.66,"y":71.76}]},"mark":{"type":"point","shape":"M0,-0.65H0.65V0.65H0Z","filled":true,"size":144,"color":"#808080","opacity":1},"encoding":{"x":{"field":"x","type":"quantitative"},"y":{"field":"y","type":"quantitative"}}}
]},
{"width":1394,"height":577,"layer":[
{"data":{"name":"w"},"mark":{"type":"bar","orient":"vertical","size":10.8,"color":{"gradient":"linear","x1":0,"y1":0,"x2":1,"y2":0,"stops":[{"offset":0,"color":"#E8E8E8"},{"offset":0.25,"color":"#FFFFFF"},{"offset":0.5,"color":"#C8C8C8"},{"offset":0.75,"color":"#A0A0A0"},{"offset":1,"color":"#D0D0D0"}]}},"encoding":{"x":{"field":"i","type":"quantitative","scale":{"domain":[-0.5,129.5],"nice":false,"zero":false,"padding":0},"axis":{"title":null,"values":[10,15.4,20.6,31,36,40.5,50,55,60,71,76,81.5,93,98,103,114,119,124],"labels":false,"grid":false,"domainColor":"#C00000","domainWidth":1.5,"tickColor":"#C00000","tickSize":2}},"y":{"field":"w","type":"quantitative","stack":null,"scale":{"domain":[-1.2675,5.945],"nice":false,"zero":false},"axis":{"title":null,"orient":"right","values":[5.5,5,4.5,4,3.5,3,2.5,2,1.5,1,0.5,0,-0.5],"format":".2f","grid":true,"gridColor":"#A00000","gridDash":[1,4],"gridWidth":1,"domain":false,"tickColor":"#C00000","tickSize":5,"labelColor":"#FF3C3C","labelFontSize":12,"labelAlign":"right","labelPadding":39}}}},
{"data":{"name":"p"},"mark":{"type":"bar","orient":"vertical","size":10.8,"color":{"gradient":"linear","x1":0,"y1":0,"x2":1,"y2":0,"stops":[{"offset":0,"color":"#5600CC"},{"offset":0.5,"color":"#6A6AFF"},{"offset":1,"color":"#5600CC"}]}},"encoding":{"x":{"field":"i","type":"quantitative"},"y":{"field":"p","type":"quantitative","stack":null}}},
{"data":{"name":"y"},"mark":{"type":"bar","orient":"vertical","size":9,"color":"#FFFF00"},"encoding":{"x":{"field":"i","type":"quantitative"},"y":{"field":"a","type":"quantitative"},"y2":{"field":"b"}}},
{"data":{"name":"ln"},"mark":{"type":"line","strokeWidth":1.1},"encoding":{"x":{"field":"i","type":"quantitative"},"y":{"field":"v","type":"quantitative"},"detail":{"field":"seg","type":"nominal"},"color":{"field":"kind","type":"nominal","legend":null,"scale":{"domain":["cyan","green","pink","red","gray","teal","magenta","lime","blue","white"],"range":["#00DCDC","#00FF00","#FF40FF","#FF0000","#C0C0C0","#00B4B4","#FF00FF","#00FF00","#0000FF","#FFFFFF"]}}}},
{"data":{"name":"sp"},"mark":{"type":"rule","color":"#5A5AFF","strokeWidth":3},"encoding":{"x":{"field":"i","type":"quantitative"},"y":{"field":"t","type":"quantitative"},"y2":{"field":"z"}}},
{"data":{"name":"s"},"mark":{"type":"point","shape":"circle","filled":true,"size":196,"fill":"#F5C81E","stroke":"#4A4030","strokeWidth":1,"opacity":1},"encoding":{"x":{"field":"i","type":"quantitative"},"y":{"field":"s","type":"quantitative"}}},
{"data":{"name":"s"},"mark":{"type":"point","shape":"M-0.36,-0.34V-0.12M0.36,-0.34V-0.12M-0.6,0.1Q0,0.8 0.6,0.1","filled":false,"size":196,"stroke":"#302400","strokeWidth":1.2,"opacity":1},"encoding":{"x":{"field":"i","type":"quantitative"},"y":{"field":"s","type":"quantitative"}}},
{"data":{"name":"sp"},"mark":{"type":"rule","color":"#FF0000","strokeWidth":2},"encoding":{"x":{"field":"i","type":"quantitative"},"y":{"field":"h","type":"quantitative"},"y2":{"field":"b"}}},
{"data":{"name":"sp"},"mark":{"type":"point","shape":"triangle-up","filled":true,"size":64,"color":"#FF0000","opacity":1},"encoding":{"x":{"field":"i","type":"quantitative"},"y":{"field":"h","type":"quantitative"}}},
{"data":{"name":"sp"},"mark":{"type":"text","color":"#FFFF00","text":"★异动★"},"encoding":{"x":{"field":"x","type":"quantitative"},"y":{"field":"ly","type":"quantitative"}}},
{"data":{"name":"minor"},"mark":{"type":"rule","color":"#C00000"},"encoding":{"x":{"field":"a","type":"quantitative"},"x2":{"field":"b"},"y":{"field":"v","type":"quantitative"}}},
{"data":{"values":[{"a":129.5,"b":134,"v":-1.2675}]},"mark":{"type":"rule","color":"#C00000","strokeWidth":1.5},"encoding":{"x":{"field":"a","type":"quantitative"},"x2":{"field":"b"},"y":{"field":"v","type":"quantitative"}}},
{"data":{"values":[{"a":-0.5,"b":134,"v":5.94}]},"mark":{"type":"rule","color":"#C00000","strokeWidth":1.2},"encoding":{"x":{"field":"a","type":"quantitative"},"x2":{"field":"b"},"y":{"field":"v","type":"quantitative"}}},
{"data":{"values":[{"a":129.5,"y":5.94,"y2":-1.42}]},"mark":{"type":"rule","color":"#C00000","strokeWidth":2},"encoding":{"x":{"field":"a","type":"quantitative"},"y":{"field":"y","type":"quantitative"},"y2":{"field":"y2"}}},
{"data":{"name":"ticks"},"mark":{"type":"rule","color":"#C00000"},"encoding":{"x":{"field":"x","type":"quantitative"},"y":{"field":"a","type":"quantitative"},"y2":{"field":"t"}}},
{"data":{"values":[{"a":112.8,"b":120.05,"y":-1.285,"y2":-1.42}]},"mark":{"type":"rect","fill":"#000080","stroke":"#2020C0"},"encoding":{"x":{"field":"a","type":"quantitative"},"x2":{"field":"b"},"y":{"field":"y","type":"quantitative"},"y2":{"field":"y2"}}},
{"data":{"name":"botText"},"mark":{"type":"text"},"encoding":{"x":{"field":"x","type":"quantitative"},"y":{"field":"y","type":"quantitative"},"text":{"field":"t","type":"nominal"},"color":{"field":"k","type":"nominal","legend":null}}},
{"data":{"values":[{"x":0.25,"y":5.8325}]},"mark":{"type":"point","shape":"circle","filled":true,"size":169,"color":"#808080","opacity":1},"encoding":{"x":{"field":"x","type":"quantitative"},"y":{"field":"y","type":"quantitative"}}},
{"data":{"values":[{"x":0.25,"y":5.8325}]},"mark":{"type":"point","shape":"M-0.45,-0.15L0,0.3L0.45,-0.15","filled":false,"size":169,"stroke":"#222222","strokeWidth":1.5,"opacity":1},"encoding":{"x":{"field":"x","type":"quantitative"},"y":{"field":"y","type":"quantitative"}}},
{"data":{"values":[{"a":56.48,"b":77.0,"y":5.32,"y2":4.6325}]},"mark":{"type":"rect","fill":"#FFFFFF"},"encoding":{"x":{"field":"a","type":"quantitative"},"x2":{"field":"b"},"y":{"field":"y","type":"quantitative"},"y2":{"field":"y2"}}},
{"data":{"values":[{"x":56.85,"y":5.105,"t":"股海网"}]},"mark":{"type":"text","font":"Noto Sans CJK SC","fontWeight":"bold","fontSize":20,"color":"#0000FF"},"encoding":{"x":{"field":"x","type":"quantitative"},"y":{"field":"y","type":"quantitative"},"text":{"field":"t","type":"nominal"}}},
{"data":{"values":[{"x":56.85,"y":4.82,"t":"Www.Guhai.com.cn"}]},"mark":{"type":"text","font":"DejaVu Sans","fontWeight":"bold","fontSize":19.5,"color":"#FF3300"},"encoding":{"x":{"field":"x","type":"quantitative"},"y":{"field":"y","type":"quantitative"},"text":{"field":"t","type":"nominal"}}},
{"data":{"name":"wm"},"mark":{"type":"rect","fill":"#F0F0F0","stroke":"#A8A8A8","strokeWidth":1},"encoding":{"x":{"field":"a","type":"quantitative"},"x2":{"field":"b"},"y":{"field":"y","type":"quantitative"},"y2":{"field":"y2"}}},
{"data":{"name":"wm"},"mark":{"type":"text","font":"Noto Sans CJK SC","fontSize":15,"align":"center","color":"#404040"},"encoding":{"x":{"field":"x","type":"quantitative"},"y":{"field":"m","type":"quantitative"},"text":{"field":"c","type":"nominal"}}}
]}
]}
